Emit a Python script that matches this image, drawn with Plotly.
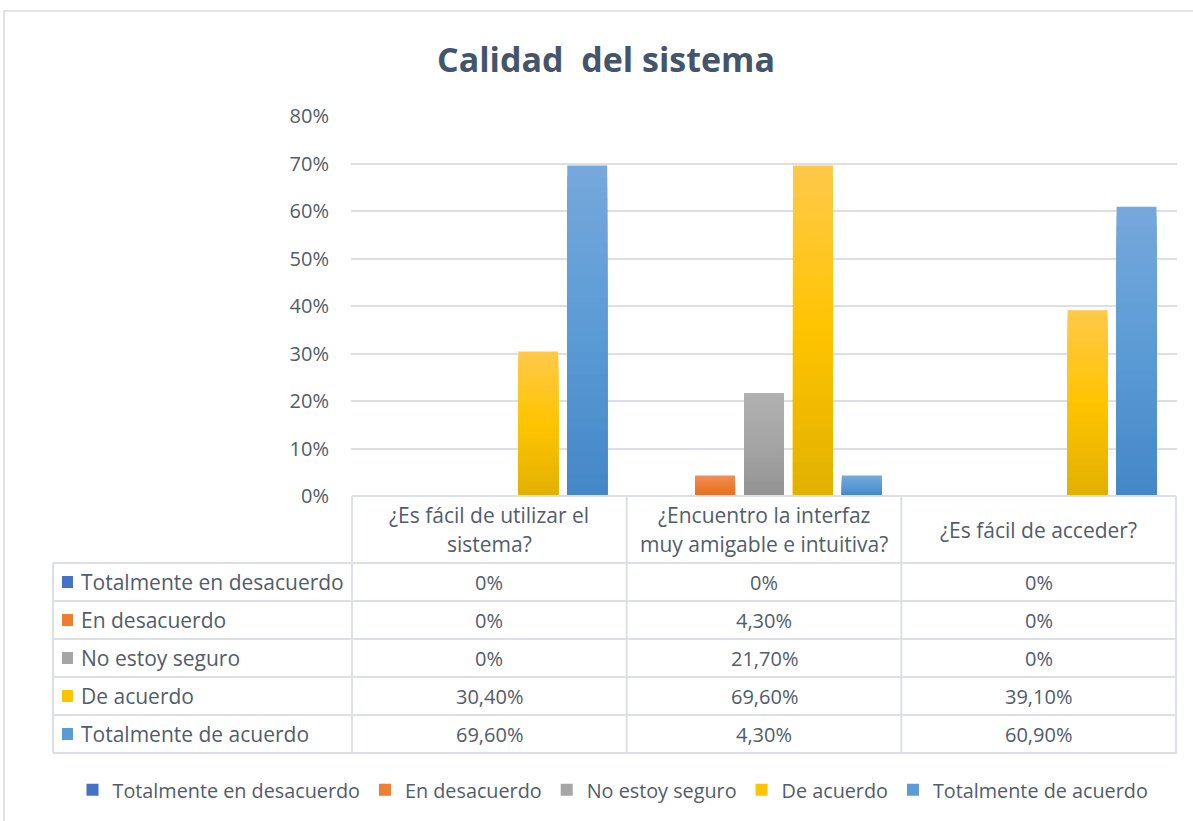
import plotly.graph_objects as go

# ---- data ----
categories = [
    "¿Es fácil de utilizar el sistema?",
    "¿Encuentro la interfaz muy amigable e intuitiva?",
    "¿Es fácil de acceder?",
]
header_lines = [
    ["¿Es fácil de utilizar el", "sistema?"],
    ["¿Encuentro la interfaz", "muy amigable e intuitiva?"],
    ["¿Es fácil de acceder?"],
]
series_names = [
    "Totalmente en desacuerdo",
    "En desacuerdo",
    "No estoy seguro",
    "De acuerdo",
    "Totalmente de acuerdo",
]
totalmente_desacuerdo = [0.0, 0.0, 0.0]
en_desacuerdo = [0.0, 0.043, 0.0]
no_seguro = [0.0, 0.217, 0.0]
de_acuerdo = [0.304, 0.696, 0.391]
totalmente_acuerdo = [0.696, 0.043, 0.609]
table_text = [
    ["0%", "0%", "0%"],
    ["0%", "4,30%", "0%"],
    ["0%", "21,70%", "0%"],
    ["30,40%", "69,60%", "39,10%"],
    ["69,60%", "4,30%", "60,90%"],
]
y_ticks = [0, 0.1, 0.2, 0.3, 0.4, 0.5, 0.6, 0.7, 0.8]

series_values = [totalmente_desacuerdo, en_desacuerdo, no_seguro, de_acuerdo, totalmente_acuerdo]

# gradient stops per series: (top, middle, bottom)
gradients = [
    ("#5F87D1", "#4472C4", "#3A65B6"),
    ("#F08E59", "#ED7D31", "#E6711F"),
    ("#B1B1B1", "#A5A5A5", "#929292"),
    ("#FFC94A", "#FFC400", "#E1B000"),
    ("#77A8DC", "#5B9BD5", "#4487C8"),
]

W, H = 1193, 821
FONT = "Open Sans"
TEXT = "#525C6B"
GRID = "#DCE0E5"

# page layout in pixels
PLOT_L, PLOT_R = 351, 1177
PLOT_T, PLOT_B = 116, 496
TABLE_L = 53
HEADER_B = 563
ROW_H = 38


def px(xp):
    return xp / W


def py(yp):
    return 1 - yp / H


def hex2rgb(h):
    h = h.lstrip("#")
    return tuple(int(h[i:i + 2], 16) for i in (0, 2, 4))


def mix(c1, c2, t):
    a, b = hex2rgb(c1), hex2rgb(c2)
    return "rgb(%d,%d,%d)" % tuple(round(a[i] + (b[i] - a[i]) * t) for i in range(3))


def grad_color(stops, f):
    # f = 0 at bar bottom, 1 at bar top
    top, mid, bot = stops
    if f < 0.5:
        return mix(bot, mid, f / 0.5)
    return mix(mid, top, (f - 0.5) / 0.5)


N = 30
fig = go.Figure()

# each bar is drawn as nested bars of decreasing height, painted from the
# top colour down, so the fill runs light at the top to dark at the bottom
for s, (name, vals) in enumerate(zip(series_names, series_values)):
    for k in range(N - 1, -1, -1):
        f = (k + 0.5) / N
        fig.add_trace(go.Bar(
            x=categories,
            y=[v * (k + 1) / N for v in vals],
            offsetgroup=str(s),
            marker=dict(color=grad_color(gradients[s], f), line=dict(width=0)),
            name=name,
            legendgroup=name,
            showlegend=(k == N // 2),
            legendrank=s + 1,
            hoverinfo="skip",
        ))

# ---- data table under the plot ----
shapes = []
annotations = []
line_style = dict(color=GRID, width=2)
n_rows = len(series_names)
table_b = HEADER_B + ROW_H * n_rows

# horizontal rules
shapes.append(dict(type="line", xref="x", yref="paper", x0=-0.5, x1=len(categories) - 0.5,
                   y0=py(PLOT_B), y1=py(PLOT_B), line=line_style))
for r in range(n_rows + 1):
    yy = py(HEADER_B + r * ROW_H)
    shapes.append(dict(type="line", xref="paper", yref="paper", x0=px(TABLE_L), x1=px(PLOT_R),
                       y0=yy, y1=yy, line=line_style))
# vertical rules
shapes.append(dict(type="line", xref="paper", yref="paper", x0=px(TABLE_L), x1=px(TABLE_L),
                   y0=py(HEADER_B), y1=py(table_b), line=line_style))
for i in range(len(categories) + 1):
    shapes.append(dict(type="line", xref="x", yref="paper", x0=i - 0.5, x1=i - 0.5,
                       y0=py(PLOT_B), y1=py(table_b), line=line_style))

label_font = dict(family=FONT, size=21, color=TEXT)
value_font = dict(family=FONT, size=20, color=TEXT)

# header (category names)
header_mid = (PLOT_B + HEADER_B) / 2
for c, lines in enumerate(header_lines):
    n = len(lines)
    for j, txt in enumerate(lines):
        annotations.append(dict(
            xref="x", yref="paper", x=categories[c],
            y=py(header_mid + (j - (n - 1) / 2) * 29),
            text=txt, showarrow=False, xanchor="center", yanchor="middle", font=label_font,
        ))

# rows: legend key, series name, values
for r, name in enumerate(series_names):
    yc = HEADER_B + (r + 0.5) * ROW_H
    shapes.append(dict(type="rect", xref="paper", yref="paper",
                       x0=px(62), x1=px(73), y0=py(yc + 6), y1=py(yc - 6),
                       fillcolor=gradients[r][1], line=dict(width=0)))
    annotations.append(dict(
        xref="paper", yref="paper", x=px(79), y=py(yc), text=name,
        showarrow=False, xanchor="left", yanchor="middle", font=label_font,
    ))
    for c in range(len(categories)):
        annotations.append(dict(
            xref="x", yref="paper", x=categories[c], y=py(yc), text=table_text[r][c],
            showarrow=False, xanchor="center", yanchor="middle", font=value_font,
        ))

# outer chart border
shapes.append(dict(type="rect", xref="paper", yref="paper",
                   x0=px(4), x1=1.02, y0=-0.02, y1=py(11),
                   line=dict(color="#D9D9D9", width=1.5), layer="below"))

fig.update_layout(
    width=W,
    height=H,
    autosize=False,
    margin=dict(l=0, r=0, t=0, b=0, pad=0),
    paper_bgcolor="white",
    plot_bgcolor="white",
    barmode="group",
    bargap=0.109,
    bargroupgap=0.184,
    title=dict(
        text="<b>Calidad\u00a0 del sistema</b>",
        x=606 / W, xanchor="center",
        y=py(60), yanchor="middle",
        font=dict(family=FONT, size=34, color="#44546A"),
        automargin=False,
    ),
    xaxis=dict(
        domain=[px(PLOT_L), px(PLOT_R)],
        showticklabels=False,
        showgrid=False,
        zeroline=False,
        showline=False,
        ticks="",
        automargin=False,
        fixedrange=True,
    ),
    yaxis=dict(
        domain=[py(PLOT_B), py(PLOT_T)],
        range=[0, 0.8],
        tickvals=y_ticks,
        tickformat=".0%",
        showgrid=True,
        gridcolor=GRID,
        gridwidth=2,
        zeroline=False,
        showline=False,
        ticks="",
        ticklabelstandoff=21,
        automargin=False,
        fixedrange=True,
        tickfont=dict(family=FONT, size=20, color=TEXT),
    ),
    legend=dict(
        orientation="h",
        x=613 / W, xanchor="center",
        y=py(790), yanchor="middle",
        font=dict(family=FONT, size=19.8, color=TEXT),
        traceorder="normal",
        itemclick=False,
        itemdoubleclick=False,
    ),
    shapes=shapes,
    annotations=annotations,
)

fig.write_html("out.html")
